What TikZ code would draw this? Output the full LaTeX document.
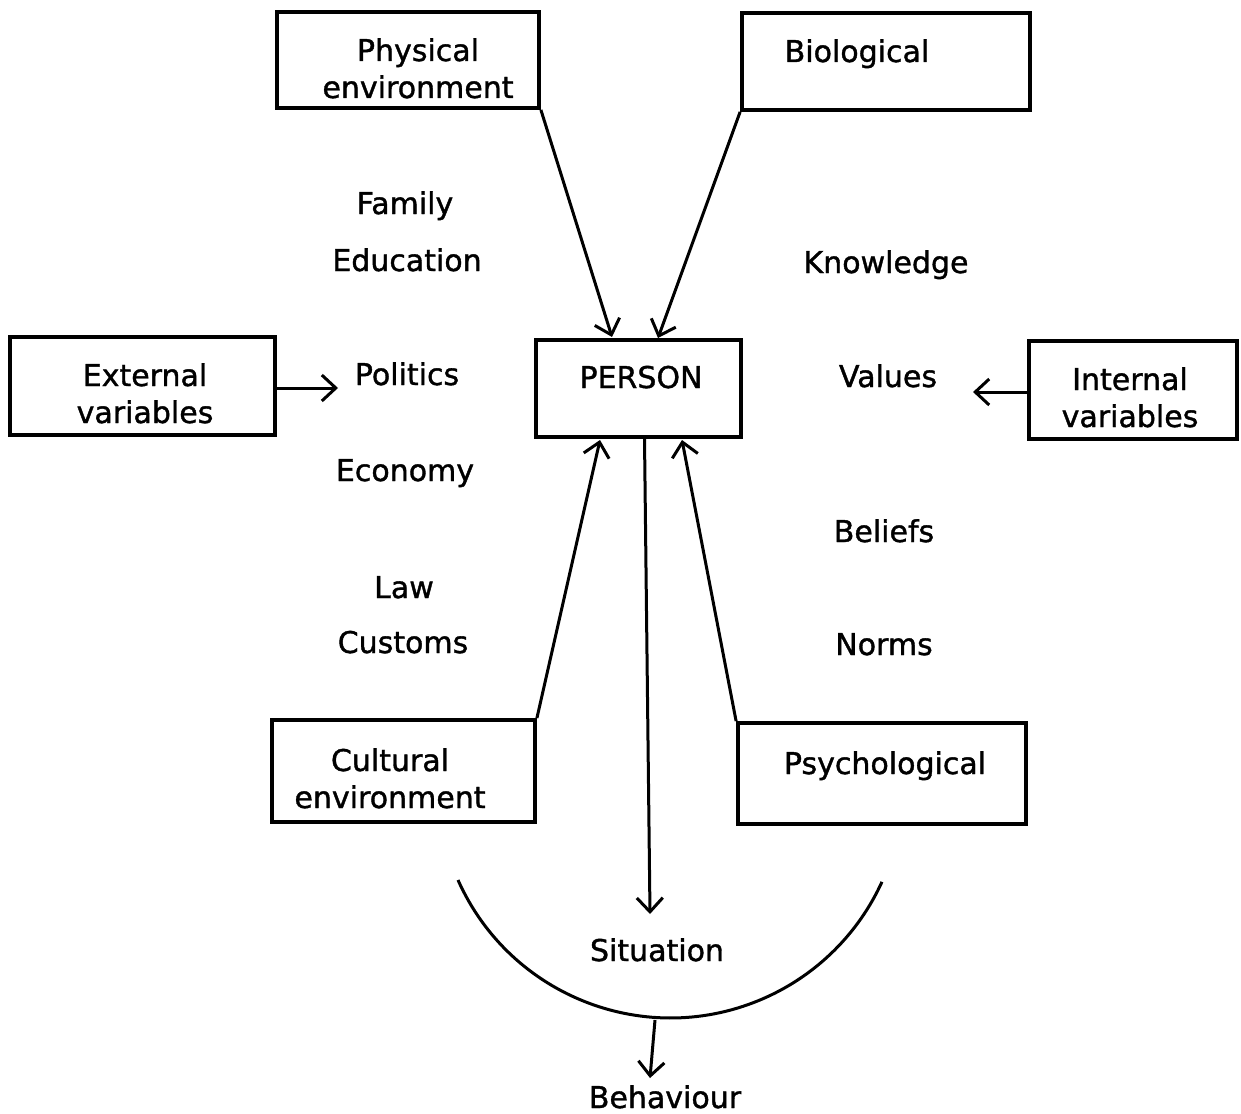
\documentclass[tikz,border=0pt]{standalone}
\usepackage{fontspec}
\setmainfont{DejaVu Sans}[FakeBold=1.2]
\usetikzlibrary{arrows.meta,calc}
\begin{document}
\begin{tikzpicture}[x=1pt,y=-1pt,
  box/.style={draw,line width=3.8pt,inner sep=0pt},
  txt/.style={anchor=base,inner sep=0pt,font=\fontsize{30}{37}\selectfont,align=center},
  conn/.style={line width=3pt,-{Straight Barb[length=14pt,width=26pt,line width=3pt]}},
  plain/.style={line width=3pt}]
\useasboundingbox (0,0) rectangle (1241,1113);

% boxes, given by their corners
\node[box,minimum width=262pt,minimum height=96pt] (phys) at (408,60) {};
\node[box,minimum width=288pt,minimum height=97pt] (bio) at (886,61.5) {};
\node[box,minimum width=265pt,minimum height=98pt] (ext) at (142.5,386) {};
\node[box,minimum width=205pt,minimum height=97pt] (person) at (638.5,388.5) {};
\node[box,minimum width=208pt,minimum height=98pt] (int) at (1133,390) {};
\node[box,minimum width=263pt,minimum height=102pt] (cult) at (403.5,771) {};
\node[box,minimum width=288pt,minimum height=101pt] (psy) at (882,773.5) {};

% box captions (two-line captions sit on their last baseline)
\node[txt] (physT) at (418,98) {Physical\\environment};
\node[txt] (bioT) at (857,62) {Biological};
\node[txt] (extT) at (145,423) {External\\variables};
\node[txt] (personT) at (641,388) {PERSON};
\node[txt] (intT) at (1130,427) {Internal\\variables};
\node[txt] (cultT) at (390,808) {Cultural\\environment};
\node[txt] (psyT) at (885,774) {Psychological};

% external factors
\node[txt] (family) at (405,214) {Family};
\node[txt] (education) at (407,271) {Education};
\node[txt] (politics) at (407,385) {Politics};
\node[txt] (economy) at (405,481) {Economy};
\node[txt] (law) at (404,598) {Law};
\node[txt] (customs) at (403,653) {Customs};

% internal factors
\node[txt] (knowledge) at (886,273) {Knowledge};
\node[txt] (values) at (888,387) {Values};
\node[txt] (beliefs) at (884,542) {Beliefs};
\node[txt] (norms) at (884,655) {Norms};

\node[txt] (situation) at (657,961) {Situation};
\node[txt] (behaviour) at (665,1108) {Behaviour};

% arrow end points
\coordinate (pTopL) at (612,337);
\coordinate (pTopR) at (658,338);
\coordinate (pBotL) at (600,440);
\coordinate (pBotR) at (682,440);
\coordinate (extEnd) at (338,388);
\coordinate (intEnd) at (973,392);
\coordinate (sitEnd) at (650,914);
\coordinate (arcL) at (458,880);
\coordinate (arcB) at (655,1020);
\coordinate (behEnd) at (650,1078);

% connectors
\draw[conn] (phys.south east) -- (pTopL);
\draw[conn] (bio.south west) -- (pTopR);
\draw[conn] (cult.north east) -- (pBotL);
\draw[conn] (psy.north west) -- (pBotR);
\draw[conn] (ext.east |- extEnd) -- (extEnd);
\draw[conn] (int.west |- intEnd) -- (intEnd);
\draw[conn] ($(person.south)+(6,0)$) -- (sitEnd);

% the situation bowl
\draw[plain] (arcL) arc[start angle=156, end angle=24.5, radius=232.5];
\draw[conn] (arcB) -- (behEnd);
\end{tikzpicture}
\end{document}
